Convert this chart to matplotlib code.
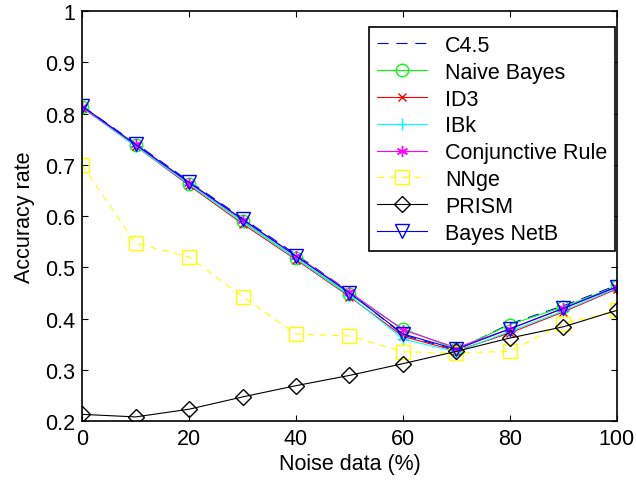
import matplotlib
matplotlib.use("Agg")
import matplotlib.pyplot as plt

plt.rcParams['font.family'] = ['Liberation Sans', 'DejaVu Sans']

# data
noise = [0, 10, 20, 30, 40, 50, 60, 70, 80, 90, 100]
c45 = [0.815, 0.742, 0.668, 0.596, 0.525, 0.452, 0.368, 0.338, 0.390, 0.425, 0.465]
naive_bayes = [0.813, 0.738, 0.662, 0.590, 0.518, 0.447, 0.380, 0.340, 0.388, 0.423, 0.463]
id3 = [0.812, 0.737, 0.660, 0.585, 0.515, 0.443, 0.365, 0.337, 0.372, 0.413, 0.458]
ibk = [0.812, 0.737, 0.662, 0.588, 0.517, 0.445, 0.360, 0.335, 0.375, 0.415, 0.460]
conj_rule = [0.813, 0.740, 0.665, 0.593, 0.522, 0.452, 0.378, 0.343, 0.380, 0.420, 0.462]
nnge = [0.700, 0.547, 0.520, 0.443, 0.370, 0.366, 0.335, 0.333, 0.336, 0.390, 0.416]
prism = [0.213, 0.208, 0.223, 0.247, 0.269, 0.289, 0.312, 0.336, 0.362, 0.384, 0.416]
bayes_net = [0.815, 0.740, 0.666, 0.594, 0.522, 0.450, 0.370, 0.340, 0.380, 0.420, 0.462]

fs = 15.5

fig = plt.figure(figsize=(6.36, 4.89), dpi=100)
ax = fig.add_axes([0.129, 0.137, 0.841, 0.838])

lw = 0.8
ax.plot(noise, c45, color='blue', ls=(0, (10, 7)), lw=lw, label='C4.5')
ax.plot(noise, naive_bayes, color='#00ff00', lw=lw, marker='o', ms=9, mfc='none', label='Naive Bayes')
ax.plot(noise, id3, color='red', lw=lw, marker='x', ms=6, label='ID3')
ax.plot(noise, ibk, color='cyan', lw=lw, marker='+', ms=9, label='IBk')
ax.plot(noise, conj_rule, color='magenta', lw=lw, marker=(6, 2, 0), ms=8, label='Conjunctive Rule')
ax.plot(noise, nnge, color='yellow', lw=lw, ls=(0, (6, 5)), marker='s', ms=10, mfc='none', label='NNge')
ax.plot(noise, prism, color='black', lw=lw, marker='D', ms=8, mfc='none', label='PRISM')
ax.plot(noise, bayes_net, color='blue', lw=lw, marker='v', ms=10, mfc='none', label='Bayes NetB')

ax.set_xlim(0, 100)
ax.set_ylim(0.2, 1)
ax.set_xticks(range(0, 101, 20))
ax.set_yticks([0.2, 0.3, 0.4, 0.5, 0.6, 0.7, 0.8, 0.9, 1])
ax.set_yticklabels(['0.2', '0.3', '0.4', '0.5', '0.6', '0.7', '0.8', '0.9', '1'])
ax.tick_params(direction='in', top=True, right=True, labelsize=fs, length=4.5, pad=5)
for s in ax.spines.values():
    s.set_linewidth(1.2)
ax.set_xlabel('Noise data (%)', fontsize=fs, labelpad=3)
ax.set_ylabel('Accuracy rate', fontsize=fs, labelpad=7)

leg = ax.legend(loc='upper right', fontsize=fs, fancybox=False, framealpha=1,
                edgecolor='black', handlelength=2.3, handletextpad=0.84,
                borderpad=0.36, labelspacing=0.27, borderaxespad=0,
                bbox_to_anchor=(0.996, 0.961))
leg.get_frame().set_linewidth(1.2)

fig.savefig('out.png', dpi=100)
